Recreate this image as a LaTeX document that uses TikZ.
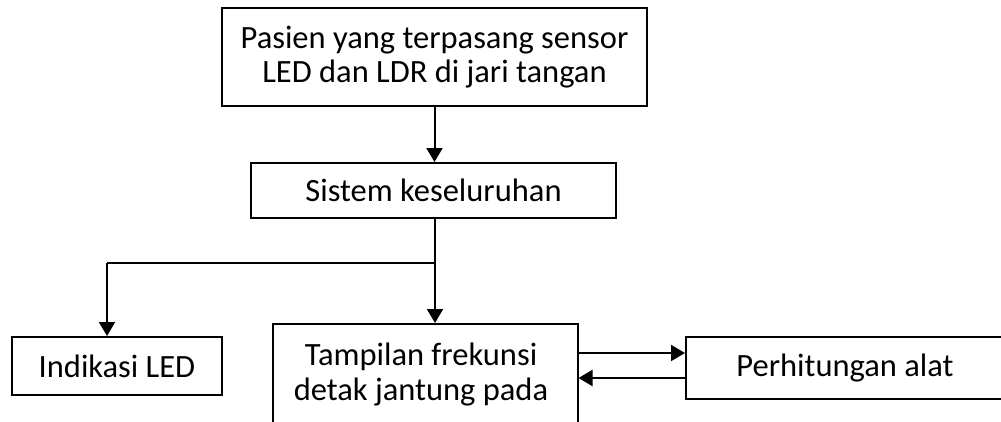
\documentclass[tikz,border=0pt]{standalone}
\usepackage{fontspec}
\setmainfont{Carlito}
\usetikzlibrary{arrows.meta}
\begin{document}
\begin{tikzpicture}[x=1pt,y=-1pt,
  box/.style={draw, line width=2pt, inner sep=0pt, align=center,
    font=\fontsize{32.5}{34}\selectfont},
  lbl/.style={inner sep=0pt, align=center, font=\fontsize{32.5}{35}\selectfont},
  arr/.style={-{Triangle[length=14pt,width=16pt]}, line width=2pt},
  ln/.style={line width=2pt}]
\useasboundingbox (0,0) rectangle (1001,421);
\clip (0,0) rectangle (1001,421);
\fill[white] (0,0) rectangle (1001,421);
\node[box, minimum width=425pt, minimum height=98pt] (pasien) at (434.5,57)
  {Pasien yang terpasang sensor\\LED dan LDR di jari tangan};
\node[box, minimum width=365pt, minimum height=55pt] (sistem) at (433.5,190.5)
  {Sistem keseluruhan};
\node[box, minimum width=210pt, minimum height=58pt] (indikasi) at (117,366)
  {Indikasi LED};
\node[box, minimum width=305pt, minimum height=150pt, anchor=north] (tampilan) at (425,323) {};
\node[lbl, anchor=base] (tampilantext) at (421,400)
  {Tampilan frekunsi\\detak jantung pada};
\node[box, minimum width=330pt, minimum height=62pt, anchor=west] (hitung) at (685,368) {};
\node[lbl] (hitungtext) at (845,368) {Perhitungan alat};
\coordinate (j) at (435,263);
\coordinate (l) at (107,263);
\draw[arr] (pasien.south) -- (pasien.south |- sistem.north);
\draw[ln] (sistem.south -| j) -- (j);
\draw[arr] (j) -- (j |- tampilan.north);
\draw[ln] (j) -- (l);
\draw[arr] (l) -- (l |- indikasi.north);
\draw[arr] (tampilan.east |- 0,353) -- (hitung.west |- 0,353);
\draw[arr] (hitung.west |- 0,378) -- (tampilan.east |- 0,378);
\end{tikzpicture}
\end{document}
